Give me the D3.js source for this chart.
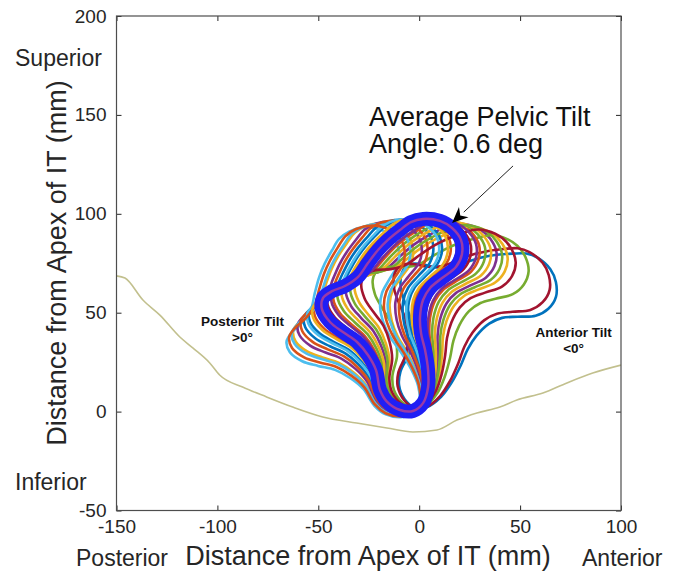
<!DOCTYPE html>
<html>
<head>
<meta charset="utf-8">
<script src="https://cdn.jsdelivr.net/npm/d3@7"></script>
<style>
  html, body { margin: 0; padding: 0; background: #fff; }
  svg { display: block; font-family: "Liberation Sans", Arial, Helvetica, sans-serif; }
</style>
</head>
<body>
<svg id="chart" width="678" height="572"></svg>
<script>
// ---------------- data ----------------
const xTicks = [-150, -100, -50, 0, 50, 100];
const yTicks = [-50, 0, 50, 100, 150, 200];

// seat/ground profile (x, y) in mm
const groundX = [-150, -145.8, -136.9, -128.5, -118.6, -112.2, -103.8, -98.9, -87.5, -75.6, -62.7, -47.8, -31, -16, -3.1, 8.8, 18.7, 28.6, 40, 48.4, 61.3, 73.2, 86, 100];
const groundY = [68.6, 67.5, 56.4, 48.8, 37.7, 32.2, 24.6, 18.5, 12.4, 7.4, 2.3, -2.7, -5.8, -8.3, -10.3, -9.3, -4.3, -0.7, 2.3, 5.9, 9.4, 14.5, 19.5, 23.5];

// average pelvis outline (x, y) in mm
const avgX = [1.9, 10.3, 16.3, 20.7, 21.2, 18.2, 11.3, 5.4, 1.9, 0.4, 0.9, 2.9, 4.4, 4.4, 1.9, -3.1, -9.5, -15.9, -19.4, -21.4, -25.4, -30.8, -37.8, -44.2, -48.2, -47.7, -43.2, -36.8, -30.4, -25.4, -20.4, -15.5, -9.5, -4.1];
const avgY = [97.4, 96.4, 92.8, 86.8, 79.7, 73.1, 67.5, 62.5, 56.4, 47.8, 39.7, 31.1, 21.0, 12.4, 4.3, 0.3, 0.8, 4.9, 10.9, 21.0, 28.6, 35.2, 40.2, 45.3, 51.8, 57.4, 60.9, 63.5, 68.0, 75.1, 81.7, 86.8, 91.8, 95.8];

// individual subjects: pelvic tilt relative to the average (deg, + = posterior)
const subjectTilt  = [-36, 4, 17, -12, -24, 22, -33, 10, -6, -16, 14, -8, 18, -3, 7, 12, -10, 2, -14, 8, -19, -1, 20, 5, -5, 0];
const subjectColor = ["#0072BD", "#D95319", "#EDB120", "#7E2F8E", "#77AC30", "#4DBEEE", "#A2142F",
                      "#0072BD", "#D95319", "#EDB120", "#7E2F8E", "#77AC30", "#4DBEEE", "#A2142F",
                      "#0072BD", "#D95319", "#EDB120", "#7E2F8E", "#77AC30", "#4DBEEE", "#A2142F",
                      "#0072BD", "#D95319", "#EDB120", "#7E2F8E", "#77AC30"];

const annotationLines = ["Average Pelvic Tilt", "Angle: 0.6 deg"];

// ---------------- layout ----------------
const svg = d3.select("#chart");
const L = 116.5, R = 621, T = 16, B = 510.5;
const x = d3.scaleLinear().domain([-150, 100]).range([L, R]);
const y = d3.scaleLinear().domain([-50, 200]).range([B, T]);
const ink = "#262626";

const defs = svg.append("defs");
defs.append("clipPath").attr("id", "clip").append("rect")
  .attr("x", L).attr("y", T).attr("width", R - L).attr("height", B - T);

const plot = svg.append("g").attr("clip-path", "url(#clip)");

// ground
const groundPts = groundX.map((d, i) => [d, groundY[i]]);
plot.append("path")
  .attr("d", d3.line().x(d => x(d[0])).y(d => y(d[1])).curve(d3.curveMonotoneX)(groundPts))
  .attr("fill", "none").attr("stroke", "#c2c08e").attr("stroke-width", 1.6);

// subjects
const avgPts = avgX.map((d, i) => [d, avgY[i]]);
const rot = (pts, deg) => {
  const a = deg * Math.PI / 180, c = Math.cos(a), s = Math.sin(a);
  return pts.map(([px, py]) => [px * c - py * s, px * s + py * c]);
};
const closed = d3.line().x(d => x(d[0])).y(d => y(d[1])).curve(d3.curveCatmullRomClosed.alpha(0.5));

subjectTilt.forEach((t, i) => {
  plot.append("path")
    .attr("d", closed(rot(avgPts, t)))
    .attr("fill", "none")
    .attr("stroke", subjectColor[i])
    .attr("stroke-width", 2.6)
    .attr("stroke-linejoin", "round");
});

// average outline
plot.append("path").attr("d", closed(avgPts))
  .attr("fill", "none").attr("stroke", "#1f1ff5").attr("stroke-width", 14).attr("stroke-linejoin", "round");
plot.append("path").attr("d", closed(avgPts))
  .attr("fill", "none").attr("stroke", "#9a3aa6").attr("stroke-width", 2.5).attr("stroke-linejoin", "round");

// ---------------- axes ----------------
const fmt = d => String(d);
const axisStyle = g => {
  g.select(".domain").remove();
  g.selectAll(".tick line").attr("stroke", ink);
  g.selectAll(".tick text").attr("fill", ink).attr("font-size", 19).attr("font-family", "Liberation Sans, Arial, sans-serif");
};
svg.append("g").attr("transform", `translate(${L},0)`)
  .call(d3.axisLeft(y).tickValues(yTicks).tickSizeInner(-5).tickSizeOuter(0).tickPadding(10).tickFormat(fmt))
  .call(axisStyle);
svg.append("g").attr("transform", `translate(0,${B})`)
  .call(d3.axisBottom(x).tickValues(xTicks).tickSizeInner(-5).tickSizeOuter(0).tickPadding(9).tickFormat(fmt))
  .call(axisStyle);
svg.append("g").attr("transform", `translate(${R},0)`)
  .call(d3.axisRight(y).tickValues(yTicks).tickSizeInner(-5).tickSizeOuter(0).tickFormat(""))
  .call(axisStyle);
svg.append("g").attr("transform", `translate(0,${T})`)
  .call(d3.axisTop(x).tickValues(xTicks).tickSizeInner(-5).tickSizeOuter(0).tickFormat(""))
  .call(axisStyle);

svg.append("rect").attr("x", L).attr("y", T).attr("width", R - L).attr("height", B - T)
  .attr("fill", "none").attr("stroke", "#4d4d4d").attr("stroke-width", 1.2);

// ---------------- labels ----------------
svg.append("text").attr("transform", `translate(66,${263}) rotate(-90)`)
  .attr("text-anchor", "middle").attr("font-size", 27).attr("fill", ink)
  .text("Distance from Apex of IT (mm)");
svg.append("text").attr("x", 368).attr("y", 565)
  .attr("text-anchor", "middle").attr("font-size", 27).attr("fill", ink)
  .text("Distance from Apex of IT (mm)");
svg.append("text").attr("x", 15).attr("y", 65.5).attr("font-size", 23).attr("fill", ink).text("Superior");
svg.append("text").attr("x", 15).attr("y", 490).attr("font-size", 23).attr("fill", ink).text("Inferior");
svg.append("text").attr("x", 76).attr("y", 566).attr("font-size", 23).attr("fill", ink).text("Posterior");
svg.append("text").attr("x", 582).attr("y", 566).attr("font-size", 23).attr("fill", ink).text("Anterior");

// tilt labels (data coords)
const tiltLabel = (cx, by, lines) => {
  lines.forEach((t, i) => svg.append("text")
    .attr("x", x(cx)).attr("y", y(by) + i * 16)
    .attr("text-anchor", "middle").attr("font-size", 13.5).attr("font-weight", "bold").attr("fill", "#111")
    .text(t));
};
tiltLabel(-87.6, 43.3, ["Posterior Tilt", ">0°"]);
tiltLabel(76.5, 37.7, ["Anterior Tilt", "<0°"]);

// annotation
annotationLines.forEach((t, i) => svg.append("text")
  .attr("x", x(-24.9)).attr("y", y(144.4) + i * 27.3)
  .attr("font-size", 27).attr("fill", "#111").text(t));

// arrow
const a0 = [x(46.5), y(124.2)], a1 = [x(16.3), y(95.3)];
const ang = Math.atan2(a1[1] - a0[1], a1[0] - a0[0]);
const hl = 16, hw = 7;
const back = [a1[0] - hl * Math.cos(ang), a1[1] - hl * Math.sin(ang)];
svg.append("line").attr("x1", a0[0]).attr("y1", a0[1]).attr("x2", back[0]).attr("y2", back[1])
  .attr("stroke", "#222").attr("stroke-width", 1);
const nx = -Math.sin(ang), ny = Math.cos(ang);
const notch = [a1[0] - 0.7 * hl * Math.cos(ang), a1[1] - 0.7 * hl * Math.sin(ang)];
svg.append("path")
  .attr("d", `M${a1[0]},${a1[1]} L${back[0] + nx * hw},${back[1] + ny * hw} L${notch[0]},${notch[1]} L${back[0] - nx * hw},${back[1] - ny * hw} Z`)
  .attr("fill", "#000");
</script>
</body>
</html>
